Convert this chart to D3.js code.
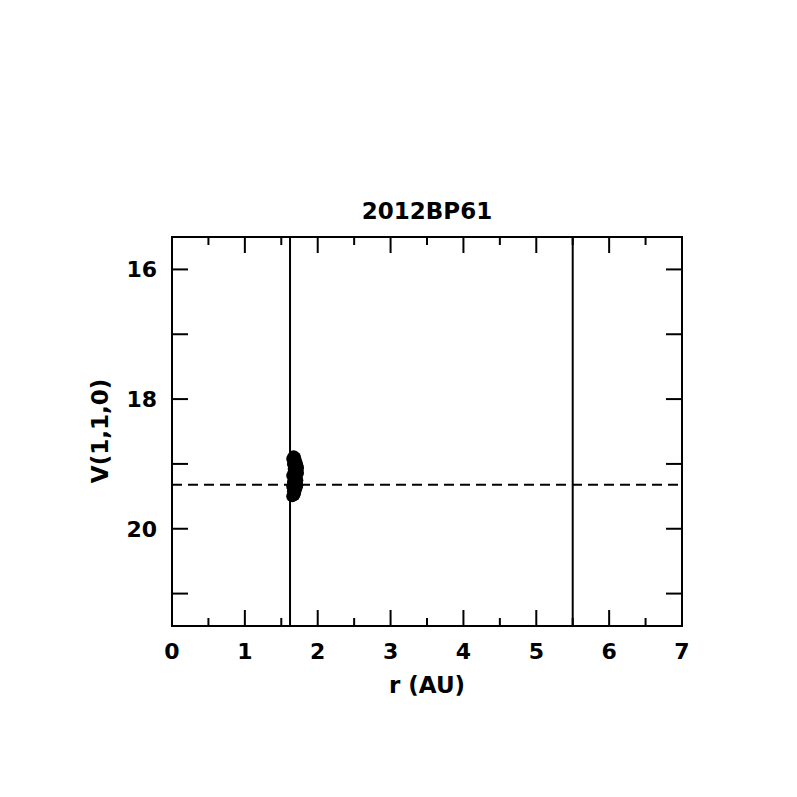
<!DOCTYPE html>
<html><head><meta charset="utf-8">
<script src="https://cdn.jsdelivr.net/npm/d3@7/dist/d3.min.js"></script>
<style>body{margin:0;background:#fff}svg{display:block}text{font-family:"DejaVu Sans",sans-serif;font-weight:bold;fill:#000}</style>
</head><body>
<script>
const title = "2012BP61";
const xLabel = "r (AU)";
const yLabel = "V(1,1,0)";
const xDomain = [0, 7];
const yDomain = [15.5, 21.5];
const xTickLabels = [0, 1, 2, 3, 4, 5, 6, 7];
const yTickLabels = [16, 18, 20];
const vLines = [1.62, 5.5];
const hLine = 19.32;
const ptsR = [1.65,1.67,1.69,1.70,1.71,1.72,1.73,1.66,1.69,1.72,1.67,1.70,1.73,1.65,1.68,1.71,1.72,1.66,1.69,1.72,1.65,1.68,1.71,1.66,1.69,1.65,1.68,1.70];
const ptsV = [18.92,18.88,18.90,18.95,18.98,19.02,19.06,19.00,19.04,19.10,19.08,19.15,19.14,19.18,19.22,19.20,19.25,19.28,19.30,19.33,19.35,19.38,19.36,19.42,19.45,19.50,19.48,19.40];

const W = 797, H = 797;
const m = {left:172, top:237, right:682, bottom:626};
const svg = d3.select("body").append("svg").attr("width",W).attr("height",H);
const x = d3.scaleLinear().domain(xDomain).range([m.left, m.right]);
const y = d3.scaleLinear().domain(yDomain).range([m.top, m.bottom]);

const g = svg.append("g");
const xMinor = d3.range(0.5, 7, 1);
const yMinor = [17, 19, 21];
function xt(vals, len){
  vals.forEach(v=>{
    g.append("line").attr("x1",x(v)).attr("x2",x(v)).attr("y1",m.bottom).attr("y2",m.bottom-len).attr("stroke","#000").attr("stroke-width",2);
    g.append("line").attr("x1",x(v)).attr("x2",x(v)).attr("y1",m.top).attr("y2",m.top+len).attr("stroke","#000").attr("stroke-width",2);
  });
}
function yt(vals, len){
  vals.forEach(v=>{
    g.append("line").attr("y1",y(v)).attr("y2",y(v)).attr("x1",m.left).attr("x2",m.left+len).attr("stroke","#000").attr("stroke-width",2);
    g.append("line").attr("y1",y(v)).attr("y2",y(v)).attr("x1",m.right).attr("x2",m.right-len).attr("stroke","#000").attr("stroke-width",2);
  });
}
xt(xTickLabels, 16); xt(xMinor, 8);
yt(yTickLabels, 16); yt(yMinor, 16);

vLines.forEach(v=>g.append("line").attr("x1",x(v)).attr("x2",x(v)).attr("y1",m.top).attr("y2",m.bottom).attr("stroke","#000").attr("stroke-width",2));
g.append("line").attr("x1",m.left).attr("x2",m.right).attr("y1",y(hLine)).attr("y2",y(hLine)).attr("stroke","#000").attr("stroke-width",2).attr("stroke-dasharray","10,6");

g.selectAll("circle.p").data(ptsR.map((r,i)=>[r,ptsV[i]])).enter().append("circle")
  .attr("cx",d=>x(d[0])).attr("cy",d=>y(d[1])).attr("r",6).attr("fill","#000");

g.append("rect").attr("x",m.left).attr("y",m.top).attr("width",m.right-m.left).attr("height",m.bottom-m.top).attr("fill","none").attr("stroke","#000").attr("stroke-width",2);

xTickLabels.forEach(v=>g.append("text").attr("x",x(v)).attr("y",m.bottom+33).attr("text-anchor","middle").attr("font-size",22).text(v));
yTickLabels.forEach(v=>g.append("text").attr("x",m.left-15).attr("y",y(v)+8).attr("text-anchor","end").attr("font-size",22).text(v));
svg.append("text").attr("x",(m.left+m.right)/2).attr("y",219).attr("text-anchor","middle").attr("font-size",23).text(title);
svg.append("text").attr("x",(m.left+m.right)/2).attr("y",693).attr("text-anchor","middle").attr("font-size",23).text(xLabel);
svg.append("text").attr("transform",`translate(108,431) rotate(-90)`).attr("text-anchor","middle").attr("font-size",23).text(yLabel);
</script>
</body></html>
